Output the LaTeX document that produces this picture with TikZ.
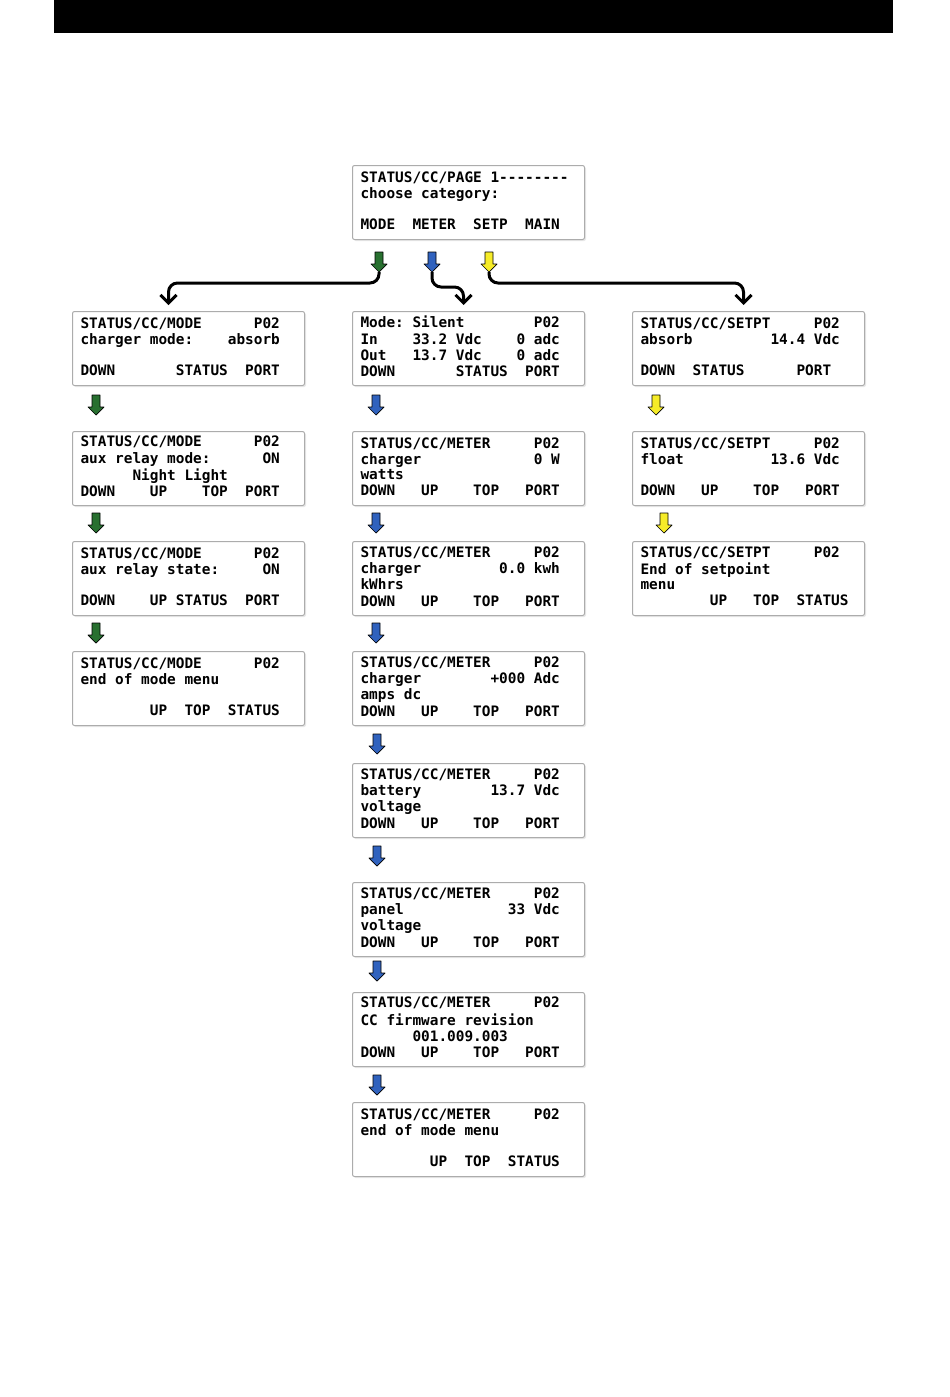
\documentclass[tikz,border=0pt]{standalone}
\usepackage{fontspec}
\setmonofont{DejaVu Sans Mono}
\usetikzlibrary{arrows.meta,calc,shadows}
\definecolor{lcdgreen}{RGB}{40,112,48}
\definecolor{lcdblue}{RGB}{48,98,190}
\definecolor{lcdyellow}{RGB}{246,236,40}
\definecolor{lcdframe}{RGB}{172,172,172}
% one character cell per space, as on the LCD
\newcommand{\lcdtext}[4]{\spaceskip=\fontcharwd\font`0\relax
  \xspaceskip=\spaceskip\def~{\nobreak\hskip\spaceskip}%
  \strut#1\\\strut#2\\\strut#3\\\strut#4}
\newcommand{\lcdfont}{\ttfamily\bfseries\fontsize{14.4}{14.7}\selectfont}

\begin{document}
\begin{tikzpicture}[x=1pt,y=-1pt,
  screen/.style={draw=lcdframe,fill=white,line width=1pt,rounded corners=2pt,
    drop shadow={shadow xshift=1.5pt,shadow yshift=-1.5pt,opacity=0.18},
    anchor=north west,minimum width=232pt,minimum height=74pt,
    text width=216pt,inner xsep=8pt,inner ysep=0pt,align=left,font=\lcdfont},
  stepdown/.pic={
    \draw[pic actions,line width=0.7pt,line join=round]
      (-4,-10) -- (4,-10) -- (4,2) -- (8,2) -- (0,10) -- (-8,2) -- (-4,2) -- cycle;
    \coordinate (-tip) at (0,10);},
  flow/.style={line width=3pt,rounded corners=9pt,
    -{Straight Barb[length=8pt,width=16pt]}}]
  \useasboundingbox (0,0) rectangle (950,1397);

  % Header bar
  \fill[black] (54,0) rectangle (893,33);

  % Main status page
  \node[screen] (page) at (352,165)
    {\lcdtext{STATUS/CC/PAGE 1--------}{choose category:}{}{MODE~~METER~~SETP~~MAIN}};

  % MODE column
  \node[screen] (mode1) at (72,311)
    {\lcdtext{STATUS/CC/MODE~~~~~~P02}{charger mode:~~~~absorb}{}{DOWN~~~~~~~STATUS~~PORT}};
  \node[screen] (mode2) at (72,431)
    {\lcdtext{STATUS/CC/MODE~~~~~~P02}{aux relay mode:~~~~~~ON}{~~~~~~Night Light}{DOWN~~~~UP~~~~TOP~~PORT}};
  \node[screen] (mode3) at (72,541)
    {\lcdtext{STATUS/CC/MODE~~~~~~P02}{aux relay state:~~~~~ON}{}{DOWN~~~~UP~STATUS~~PORT}};
  \node[screen] (mode4) at (72,651)
    {\lcdtext{STATUS/CC/MODE~~~~~~P02}{end of mode menu}{}{~~~~~~~~UP~~TOP~~STATUS}};

  % METER column
  \node[screen] (meter1) at (352,311)
    {\lcdtext{Mode: Silent~~~~~~~~P02}{In~~~~33.2~Vdc~~~~0~adc}{Out~~~13.7~Vdc~~~~0~adc}{DOWN~~~~~~~STATUS~~PORT}};
  \node[screen] (meter2) at (352,431)
    {\lcdtext{STATUS/CC/METER~~~~~P02}{charger~~~~~~~~~~~~~0~W}{watts}{DOWN~~~UP~~~~TOP~~~PORT}};
  \node[screen] (meter3) at (352,541)
    {\lcdtext{STATUS/CC/METER~~~~~P02}{charger~~~~~~~~~0.0~kwh}{kWhrs}{DOWN~~~UP~~~~TOP~~~PORT}};
  \node[screen] (meter4) at (352,651)
    {\lcdtext{STATUS/CC/METER~~~~~P02}{charger~~~~~~~~+000~Adc}{amps dc}{DOWN~~~UP~~~~TOP~~~PORT}};
  \node[screen] (meter5) at (352,763)
    {\lcdtext{STATUS/CC/METER~~~~~P02}{battery~~~~~~~~13.7~Vdc}{voltage}{DOWN~~~UP~~~~TOP~~~PORT}};
  \node[screen] (meter6) at (352,882)
    {\lcdtext{STATUS/CC/METER~~~~~P02}{panel~~~~~~~~~~~~33~Vdc}{voltage}{DOWN~~~UP~~~~TOP~~~PORT}};
  \node[screen] (meter7) at (352,992)
    {\lcdtext{STATUS/CC/METER~~~~~P02}{CC firmware revision}{~~~~~~001.009.003}{DOWN~~~UP~~~~TOP~~~PORT}};
  \node[screen] (meter8) at (352,1102)
    {\lcdtext{STATUS/CC/METER~~~~~P02}{end of mode menu}{}{~~~~~~~~UP~~TOP~~STATUS}};

  % SETPT column
  \node[screen] (setpt1) at (632,311)
    {\lcdtext{STATUS/CC/SETPT~~~~~P02}{absorb~~~~~~~~~14.4~Vdc}{}{DOWN~~STATUS~~~~~~PORT}};
  \node[screen] (setpt2) at (632,431)
    {\lcdtext{STATUS/CC/SETPT~~~~~P02}{float~~~~~~~~~~13.6~Vdc}{}{DOWN~~~UP~~~~TOP~~~PORT}};
  \node[screen] (setpt3) at (632,541)
    {\lcdtext{STATUS/CC/SETPT~~~~~P02}{End of setpoint}{menu}{~~~~~~~~UP~~~TOP~~STATUS}};

  % Category selectors under the main page
  \pic[fill=lcdgreen] (tmode) at (379,262) {stepdown};
  \pic[fill=lcdblue] (tmeter) at (432,262) {stepdown};
  \pic[fill=lcdyellow] (tsetp) at (489,262) {stepdown};

  % Branch lines to the first screen of each menu
  \draw[flow] (tmode-tip) |- ($(mode1.north)+(-20,-28)$) -- ($(mode1.north)+(-20,-6)$);
  \draw[flow] (tmeter-tip) |- ($(meter1.north)+(-5,-24)$) -- ($(meter1.north)+(-5,-6)$);
  \draw[flow] (tsetp-tip) |- ($(setpt1.north)+(-5,-28)$) -- ($(setpt1.north)+(-5,-6)$);

  % Step arrows, MODE column
  \pic[fill=lcdgreen] (amode1) at (96,405) {stepdown};
  \pic[fill=lcdgreen] (amode2) at (96,523) {stepdown};
  \pic[fill=lcdgreen] (amode3) at (96,633) {stepdown};

  % Step arrows, METER column
  \pic[fill=lcdblue] (ameter1) at (376,405) {stepdown};
  \pic[fill=lcdblue] (ameter2) at (376,523) {stepdown};
  \pic[fill=lcdblue] (ameter3) at (376,633) {stepdown};
  \pic[fill=lcdblue] (ameter4) at (377,744) {stepdown};
  \pic[fill=lcdblue] (ameter5) at (377,856) {stepdown};
  \pic[fill=lcdblue] (ameter6) at (377,971) {stepdown};
  \pic[fill=lcdblue] (ameter7) at (377,1085) {stepdown};

  % Step arrows, SETPT column
  \pic[fill=lcdyellow] (asetpt1) at (656,405) {stepdown};
  \pic[fill=lcdyellow] (asetpt2) at (664,523) {stepdown};
\end{tikzpicture}
\end{document}
